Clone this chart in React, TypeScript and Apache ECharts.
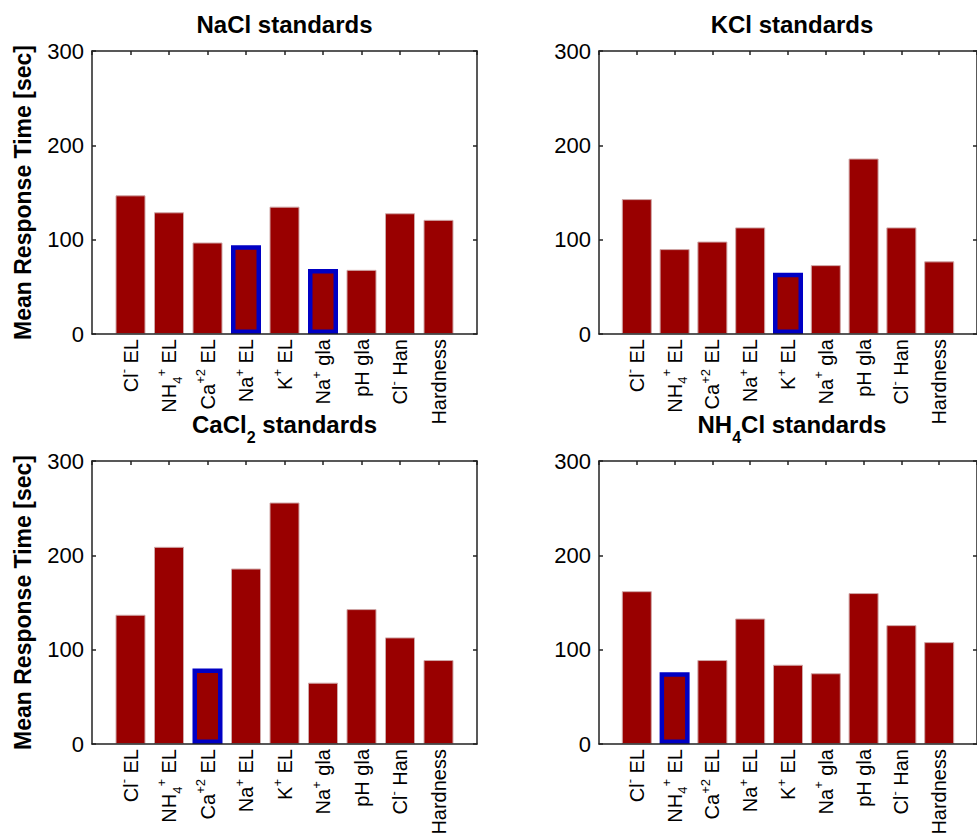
import React, { useEffect, useRef } from 'react';
import * as echarts from 'echarts';

// x tick labels (rich markup: sup = superscript, sub = subscript)
const categories = [
  'Cl{sup|-} EL',
  'NH{sub|4}{sup|+} EL',
  'Ca{sup|+2} EL',
  'Na{sup|+} EL',
  'K{sup|+} EL',
  'Na{sup|+} gla',
  'pH gla',
  'Cl{sup|-} Han',
  'Hardness',
];
const yTicks = [0, 100, 200, 300];
const panelTitles = ['NaCl standards', 'KCl standards', 'CaCl{s|2} standards', 'NH{s|4}Cl standards'];
const yAxisTitle = 'Mean Response Time [sec]';

const naclValues = [147, 129, 97, 94, 135, 69, 68, 128, 121];
const kclValues = [143, 90, 98, 113, 65, 73, 186, 113, 77];
const cacl2Values = [137, 209, 80, 186, 256, 65, 143, 113, 89];
const nh4clValues = [162, 76, 89, 133, 84, 75, 160, 126, 108];

const naclHighlight = [3, 5];
const kclHighlight = [4];
const cacl2Highlight = [2];
const nh4clHighlight = [1];

const FONT = '"Liberation Sans", Arial, Helvetica, sans-serif';

export default function App() {
  const ref = useRef<HTMLDivElement>(null);

  useEffect(() => {
    if (!ref.current) return;
    const chart = echarts.init(ref.current, null, { renderer: 'svg' });

    const panels = [
      { values: naclValues, hl: naclHighlight, left: 92, top: 51, width: 385, ylabel: true },
      { values: kclValues, hl: kclHighlight, left: 599, top: 51, width: 386, ylabel: false },
      { values: cacl2Values, hl: cacl2Highlight, left: 92, top: 461, width: 385, ylabel: true },
      { values: nh4clValues, hl: nh4clHighlight, left: 599, top: 461, width: 386, ylabel: false },
    ];
    const H = 283;
    const lineColor = '#222';

    const grid: any[] = [];
    const xAxis: any[] = [];
    const yAxis: any[] = [];
    const series: any[] = [];
    const graphic: any[] = [];

    const tickMax = yTicks[yTicks.length - 1];
    const tickStep = yTicks[1] - yTicks[0];

    panels.forEach((p, i) => {
      grid.push({ left: p.left, top: p.top, width: p.width, height: H, show: false });
      // bottom x axis with labels
      xAxis.push({
        type: 'value',
        gridIndex: i,
        position: 'bottom',
        min: 0,
        max: categories.length + 1,
        interval: 1,
        z: 5,
        splitLine: { show: false },
        axisLine: { show: true, onZero: false, lineStyle: { color: lineColor, width: 1.5 } },
        axisTick: { show: false },
        axisLabel: {
          show: true,
          rotate: 90,
          margin: 5,
          color: '#000',
          fontFamily: FONT,
          fontSize: 20,
          showMinLabel: true,
          showMaxLabel: true,
          formatter: (v: number) => (v >= 1 && v <= categories.length ? categories[v - 1] : ''),
          rich: {
            sup: { fontSize: 13, fontFamily: FONT, color: '#000', verticalAlign: 'top', padding: [0, 0, 14, 0] },
            sub: { fontSize: 13, fontFamily: FONT, color: '#000', verticalAlign: 'bottom', padding: [16, 0, 0, 0] },
          },
        },
      });
      // top x axis (ticks only)
      xAxis.push({
        type: 'value',
        gridIndex: i,
        position: 'top',
        min: 0,
        max: categories.length + 1,
        interval: 1,
        z: 5,
        splitLine: { show: false },
        axisLine: { show: true, onZero: false, lineStyle: { color: lineColor, width: 1.5 } },
        axisTick: { show: true, inside: true, length: 4, lineStyle: { color: lineColor, width: 1.5 } },
        axisLabel: { show: false },
      });
      yAxis.push({
        type: 'value',
        gridIndex: i,
        position: 'left',
        min: 0,
        max: tickMax,
        interval: tickStep,
        z: 5,
        splitLine: { show: false },
        axisLine: { show: true, onZero: false, lineStyle: { color: lineColor, width: 1.5 } },
        axisTick: { show: true, inside: true, length: 4, lineStyle: { color: lineColor, width: 1.5 } },
        axisLabel: { show: true, margin: 8, color: '#000', fontFamily: FONT, fontSize: 22 },
        name: p.ylabel ? yAxisTitle : '',
        nameLocation: 'middle',
        nameGap: 58,
        nameRotate: 90,
        nameTextStyle: { color: '#000', fontFamily: FONT, fontSize: 23, fontWeight: 'bold' },
      });
      yAxis.push({
        type: 'value',
        gridIndex: i,
        position: 'right',
        min: 0,
        max: tickMax,
        interval: tickStep,
        z: 5,
        splitLine: { show: false },
        axisLine: { show: true, onZero: false, lineStyle: { color: lineColor, width: 1.5 } },
        axisTick: { show: true, inside: true, length: 4, lineStyle: { color: lineColor, width: 1.5 } },
        axisLabel: { show: false },
      });
      series.push({
        type: 'bar',
        xAxisIndex: i * 2,
        yAxisIndex: i * 2,
        barWidth: 30,
        itemStyle: { color: '#990000', borderColor: '#d0a8a8', borderWidth: 1 },
        data: p.values.map((v, k) =>
          p.hl.includes(k)
            ? { value: [k + 1, v], itemStyle: { borderColor: '#0000c4', borderWidth: 4.5 } }
            : { value: [k + 1, v] }
        ),
      });
      const cx = p.left + p.width / 2;
      const cy = i < 2 ? 24 : 424;
      graphic.push({
        type: 'text',
        x: cx,
        y: cy,
        z: 10,
        style: {
          text: panelTitles[i],
          fill: '#000',
          font: `bold 24px ${FONT}`,
          align: 'center',
          verticalAlign: 'middle',
          rich: {
            s: {
              fontSize: 16,
              fontWeight: 'bold',
              fontFamily: FONT,
              fill: '#000',
              verticalAlign: 'bottom',
              padding: [26, 0, 0, 0],
            },
          },
        },
      });
    });

    chart.setOption({
      animation: false,
      backgroundColor: '#fff',
      grid,
      xAxis,
      yAxis,
      series,
      graphic,
    });

    return () => chart.dispose();
  }, []);

  return (
    <div
      ref={ref}
      style={{ position: 'absolute', left: 0, top: 0, width: 977, height: 839 }}
    />
  );
}
